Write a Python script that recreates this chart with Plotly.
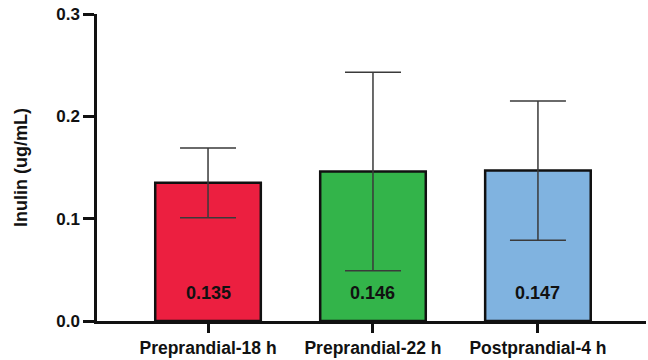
import plotly.graph_objects as go

categories = ["Preprandial-18 h", "Preprandial-22 h", "Postprandial-4 h"]
means = [0.135, 0.146, 0.147]
errors = [0.034, 0.097, 0.068]
colors = ["#EC1F40", "#33B44A", "#80B3E0"]
y_ticks = [0.0, 0.1, 0.2, 0.3]
y_tick_labels = ["0.0", "0.1", "0.2", "0.3"]

FONT = "Liberation Sans"

fig = go.Figure()
fig.add_trace(go.Bar(
    x=categories,
    y=means,
    width=0.64,
    marker=dict(color=colors, line=dict(color="#111111", width=2.5)),
    error_y=dict(type="data", array=errors, visible=True,
                 color="#3a3a3a", thickness=1.5, width=28),
    hoverinfo="skip",
))

for c, v in zip(categories, means):
    fig.add_annotation(x=c, y=0, yanchor="bottom", yshift=16,
                       text=f"<b>{v:.3f}</b>", showarrow=False,
                       font=dict(family=FONT, size=18, color="#111111"))

fig.update_layout(
    width=648, height=360,
    margin=dict(l=97, r=2, t=14, b=37),
    plot_bgcolor="white", paper_bgcolor="white",
    showlegend=False,
    font=dict(family=FONT, color="#111111"),
)
fig.update_xaxes(
    range=[-0.673, 2.655],
    showline=True, linecolor="#111111", linewidth=2.5,
    ticks="outside", ticklen=9, tickwidth=2.5, tickcolor="#111111",
    tickvals=categories,
    ticktext=[f"<b>{c}</b>" for c in categories],
    tickfont=dict(family=FONT, size=17.5, color="#111111"),
    showgrid=False, zeroline=False,
)
fig.update_yaxes(
    range=[0, 0.3],
    showline=True, linecolor="#111111", linewidth=2.5,
    ticks="outside", ticklen=11, tickwidth=2.5, tickcolor="#111111",
    tickvals=y_ticks,
    ticktext=[f"<b>{t}</b>" for t in y_tick_labels],
    tickfont=dict(family=FONT, size=17, color="#111111"),
    ticklabeloverflow="allow",
    showgrid=False, zeroline=False,
    title=dict(text="<b>Inulin (ug/mL)</b>", font=dict(family=FONT, size=18, color="#111111"), standoff=24),
)

fig.write_html("out.html",
               config={"displayModeBar": False},
               post_script="document.body.style.margin='0';document.body.style.overflow='hidden';")
